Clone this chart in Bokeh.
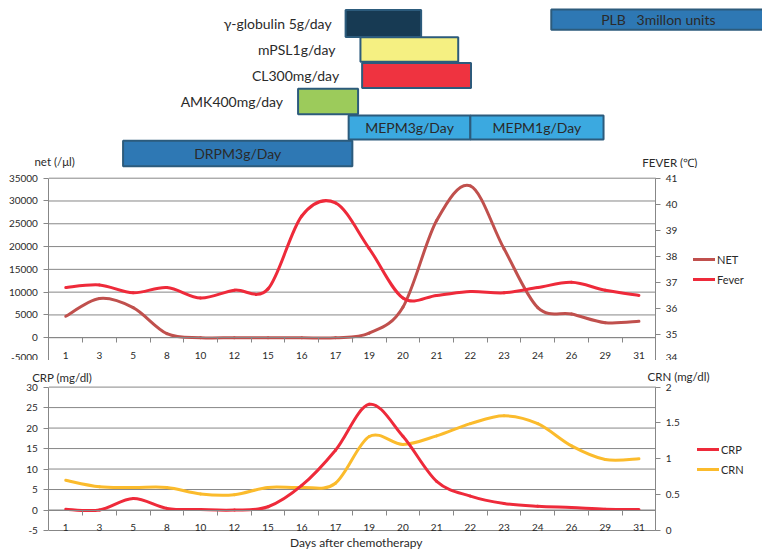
from bokeh.plotting import figure
from bokeh.models import (Range1d, LinearAxis, FixedTicker, NumeralTickFormatter,
                          Legend, LegendItem, Label, ColumnDataSource)
from bokeh.layouts import column
from bokeh.embed import file_html
from bokeh.resources import INLINE
from bokeh.core.properties import value

# ---------------- data ----------------
days = ["1", "3", "5", "8", "10", "12", "15", "16", "17", "19",
        "20", "21", "22", "23", "24", "26", "29", "31"]
net = [4700, 8600, 6600, 900, 0, 0, 0, 0, 0, 1000,
       6700, 25700, 33300, 19500, 6600, 5200, 3300, 3600]
fever = [36.8, 36.9, 36.6, 36.8, 36.4, 36.7, 36.75, 39.55, 40.05, 38.3,
         36.4, 36.5, 36.65, 36.6, 36.8, 37.0, 36.7, 36.5]
crp = [0.2, 0.0, 2.8, 0.4, 0.1, 0.0, 0.8, 6.0, 14.6, 25.8,
       18.0, 7.0, 3.4, 1.6, 0.9, 0.6, 0.2, 0.1]
crn = [0.70, 0.61, 0.60, 0.60, 0.51, 0.50, 0.60, 0.60, 0.66, 1.31,
       1.20, 1.32, 1.49, 1.60, 1.49, 1.18, 0.99, 1.00]

net_ticks = [-5000, 0, 5000, 10000, 15000, 20000, 25000, 30000, 35000]
fever_ticks = [34, 35, 36, 37, 38, 39, 40, 41]
crp_ticks = [-5, 0, 5, 10, 15, 20, 25, 30]
crn_ticks = [0, 0.5, 1, 1.5, 2]

# treatments: start / end along the day axis (category units), lane (row)
tx_names = ["γ-globulin 5g/day", "mPSL1g/day", "CL300mg/day", "AMK400mg/day",
            "MEPM3g/Day", "MEPM1g/Day", "DRPM3g/Day",
            "PLB\u00a0\u00a0\u00a03millon units"]
tx_start = [8.30, 8.74, 8.79, 6.89, 8.39, 12.00, 1.70, 14.40]
tx_end = [10.54, 11.64, 12.02, 8.67, 12.00, 15.95, 8.50, 20.75]
tx_lane = [0, 1, 2, 3, 4, 4, 5, -0.15]

# ---------------- styles / geometry ----------------
tx_fill = ["#173a53", "#f5f082", "#ef3340", "#9ccb5b",
           "#3ba9e0", "#3ba9e0", "#2e78b4", "#2e78b4"]
tx_h = [1.04, 0.94, 0.96, 0.99, 0.92, 0.92, 0.99, 0.78]
tx_inside = [False, False, False, False, True, True, True, True]
tx_gap = [14, 25, 23, 15, 0, 0, 0, 0]

FONT = "Lato"
W = 762
AX_L = 48.4          # pixel x of left value axis
AX_R = 655.3         # pixel x of right value axis
N = len(days)
UNIT = (AX_R - AX_L) / N
X_RANGE = (-0.5 - AX_L / UNIT, N - 0.5 + (W - AX_R) / UNIT)
GRID = "#878787"
TXT = "#2a2a2a"
C_NET = "#c0504d"
C_RED = "#ee2a3a"
C_CRN = "#fbbb2c"


def new_fig(h, y_range):
    f = figure(width=W, height=h, x_range=Range1d(*X_RANGE), y_range=y_range,
               output_backend="svg", toolbar_location=None, min_border=0,
               x_axis_location=None, y_axis_location=None)
    f.grid.visible = False
    f.outline_line_color = None
    return f


def yrange(lo, hi, px_hi, px_lo, h):
    per = (px_lo - px_hi) / (hi - lo)
    return Range1d(lo - (h - px_lo) / per, hi + px_hi / per)


# ---------------- gantt ----------------
GH = 168
PITCH = 26.0
TOP0 = 23.0
g = new_fig(GH, Range1d((GH - TOP0) / PITCH, -TOP0 / PITCH))

gsrc = ColumnDataSource(dict(
    left=tx_start, right=tx_end,
    top=[l - h / 2 for l, h in zip(tx_lane, tx_h)],
    bottom=[l + h / 2 for l, h in zip(tx_lane, tx_h)],
    fill=tx_fill))
g.quad(left="left", right="right", top="top", bottom="bottom", source=gsrc,
       fill_color="fill", line_color="#2c5b7c", line_width=2)

out_idx = [i for i in range(len(tx_names)) if not tx_inside[i]]
in_idx = [i for i in range(len(tx_names)) if tx_inside[i]]
g.text(x=[tx_start[i] for i in out_idx], y=[tx_lane[i] for i in out_idx],
       text=[tx_names[i] for i in out_idx],
       x_offset=[-tx_gap[i] for i in out_idx],
       text_align="right", text_baseline="middle",
       text_font=value(FONT), text_font_size="14px", text_color=TXT)
g.text(x=[(tx_start[i] + tx_end[i]) / 2 for i in in_idx], y=[tx_lane[i] for i in in_idx],
       text=[tx_names[i] for i in in_idx],
       text_align="center", text_baseline="middle",
       text_font=value(FONT), text_font_size="14px", text_color=TXT)

# axis titles of the upper chart (in the band just above its plot area)
g.add_layout(Label(x=-0.5, y=GH - 161, y_units="screen", x_offset=5.6, text="net (/μl)",
                   text_align="center", text_baseline="middle",
                   text_font=FONT, text_font_size="11.5px", text_color=TXT))
g.add_layout(Label(x=N - 0.5, y=GH - 161.5, y_units="screen", x_offset=14,
                   text="FEVER (℃)", text_align="center", text_baseline="middle",
                   text_font=FONT, text_font_size="11.5px", text_color=TXT))


def smooth(ys, k=1 / 6):
    xs = list(range(len(ys)))
    n = len(xs)
    d = dict(x0=[], y0=[], x1=[], y1=[], cx0=[], cy0=[], cx1=[], cy1=[])
    for i in range(n - 1):
        a = max(i - 1, 0)
        b = min(i + 2, n - 1)
        d["x0"].append(xs[i]); d["y0"].append(ys[i])
        d["x1"].append(xs[i + 1]); d["y1"].append(ys[i + 1])
        d["cx0"].append(xs[i] + (xs[i + 1] - xs[a]) * k)
        d["cy0"].append(ys[i] + (ys[i + 1] - ys[a]) * k)
        d["cx1"].append(xs[i + 1] - (xs[b] - xs[i]) * k)
        d["cy1"].append(ys[i + 1] - (ys[b] - ys[i]) * k)
    return ColumnDataSource(d)


def curve(p, ys, color, rname="default"):
    return p.bezier(x0="x0", y0="y0", x1="x1", y1="y1", cx0="cx0", cy0="cy0",
                    cx1="cx1", cy1="cy1", source=smooth(ys), y_range_name=rname,
                    line_color=color, line_width=3, line_cap="round")


def chart(h, lticks, rticks, px_hi, px_lo, lfmt, rfmt):
    p = new_fig(h, yrange(lticks[0], lticks[-1], px_hi, px_lo, h))
    p.extra_y_ranges = {"r": yrange(rticks[0], rticks[-1], px_hi, px_lo, h)}
    # horizontal gridlines at the left-axis ticks, spanning the plot area only
    p.segment(x0=-0.5, x1=N - 0.5, y0=lticks, y1=lticks, line_color=GRID, line_width=1)

    xa = LinearAxis(fixed_location=0, bounds=(-0.5, N - 0.5),
                    ticker=FixedTicker(ticks=list(range(N)),
                                       minor_ticks=[i - 0.5 for i in range(N + 1)]),
                    major_label_overrides={i: d for i, d in enumerate(days)})
    xa.major_tick_out = 0
    xa.major_tick_in = 0
    xa.minor_tick_out = 5
    xa.minor_tick_in = 0
    xa.minor_tick_line_color = GRID
    xa.major_label_standoff = 9
    p.add_layout(xa, "below")

    ya = LinearAxis(fixed_location=-0.5, bounds=(lticks[0], lticks[-1]),
                    ticker=FixedTicker(ticks=lticks),
                    formatter=NumeralTickFormatter(format=lfmt))
    ya.major_label_standoff = 6
    p.add_layout(ya, "left")
    ra = LinearAxis(fixed_location=N - 0.5, y_range_name="r",
                    bounds=(rticks[0], rticks[-1]),
                    ticker=FixedTicker(ticks=rticks),
                    formatter=NumeralTickFormatter(format=rfmt))
    ra.major_label_standoff = 5
    p.add_layout(ra, "right")
    for ax in (xa, ya, ra):
        ax.axis_line_color = GRID
        ax.major_label_text_font = FONT
        ax.major_label_text_font_size = "10px"
        ax.major_label_text_color = TXT
    for ax in (ya, ra):
        ax.major_tick_line_color = GRID
        ax.major_tick_out = 5
        ax.major_tick_in = 0
        ax.minor_tick_line_color = None
    return p


def legend(p, items, x, y):
    lg = Legend(items=items, location=(x, y), border_line_color=None,
                background_fill_alpha=0, padding=0, margin=0, spacing=6,
                glyph_width=22, glyph_height=14, label_height=14, label_standoff=2,
                label_text_font=FONT, label_text_font_size="11px",
                label_text_color=TXT)
    p.add_layout(lg)


# ---------------- upper chart ----------------
H1 = 192
p1 = chart(H1, net_ticks, fever_ticks, 9.7, 192, "0", "0")
r_net = curve(p1, net, C_NET)
r_fev = curve(p1, fever, C_RED, "r")
legend(p1, [LegendItem(label="NET", renderers=[r_net], index=0),
            LegendItem(label="Fever", renderers=[r_fev], index=0)], 693, H1 - 118)

# ---------------- lower chart ----------------
H2 = 196
p2 = chart(H2, crp_ticks, crn_ticks, 26.6, 170, "0", "0.[0]")
r_crn = curve(p2, crn, C_CRN, "r")
r_crp = curve(p2, crp, C_RED)
legend(p2, [LegendItem(label="CRP", renderers=[r_crp], index=0),
            LegendItem(label="CRN", renderers=[r_crn], index=0)], 697, H2 - 116)

p2.add_layout(Label(x=-0.5, y=H2 - 17, y_units="screen", x_offset=13.3,
                    text="CRP (mg/dl)", text_align="center", text_baseline="middle",
                    text_font=FONT, text_font_size="11.5px", text_color=TXT))
p2.add_layout(Label(x=N - 0.5, y=H2 - 16, y_units="screen", x_offset=22.7,
                    text="CRN (mg/dl)", text_align="center", text_baseline="middle",
                    text_font=FONT, text_font_size="11.5px", text_color=TXT))
p2.add_layout(Label(x=(N - 1) / 2, y=H2 - 181.7, y_units="screen", x_offset=4,
                    text="Days after chemotherapy",
                    text_align="center", text_baseline="middle",
                    text_font=FONT, text_font_size="12px", text_color=TXT))

page = column(g, p1, p2)
open("out.html", "w").write(file_html(page, INLINE))
